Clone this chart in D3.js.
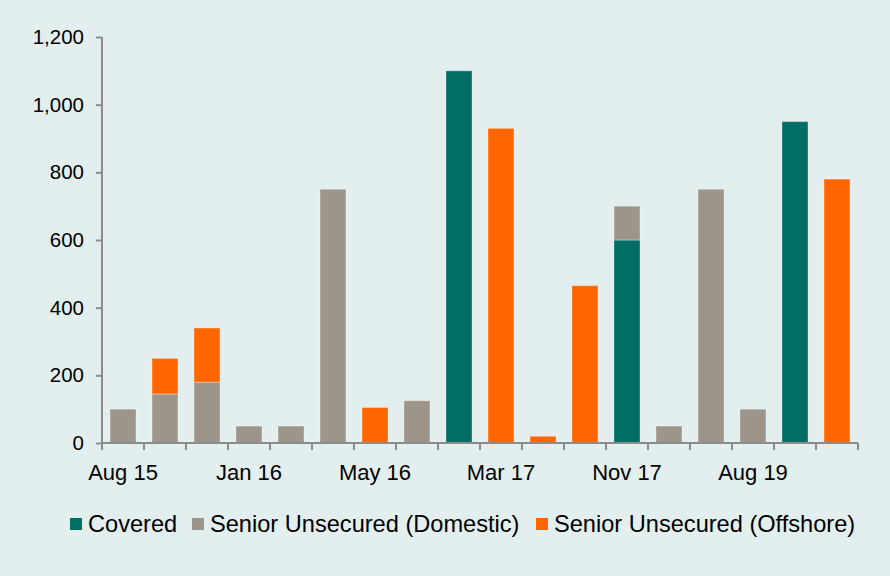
<!DOCTYPE html>
<html>
<head>
<meta charset="utf-8">
<script src="https://cdn.jsdelivr.net/npm/d3@7"></script>
<style>
  body { margin: 0; background: #e3efef; }
  svg { display: block; font-family: "Liberation Sans", Arial, sans-serif; }
</style>
</head>
<body>
<svg id="chart" width="890" height="576"></svg>
<script>
// issue dates (only every third one is labelled on the axis)
var dates = ["Aug 15", "Oct 15", "Nov 15", "Jan 16", "Feb 16", "Mar 16",
             "May 16", "Sep 16", "Nov 16", "Mar 17", "Jun 17", "Sep 17",
             "Nov 17", "Mar 18", "Oct 18", "Aug 19", "Sep 19", "Nov 19"];

var covered  = [0, 0, 0, 0, 0, 0, 0, 0, 1100, 0, 0, 0, 600, 0, 0, 0, 950, 0];
var domestic = [100, 145, 180, 50, 50, 750, 0, 125, 0, 0, 0, 0, 100, 50, 750, 100, 0, 0];
var offshore = [0, 105, 160, 0, 0, 0, 105, 0, 0, 930, 20, 465, 0, 0, 0, 0, 0, 780];

var seriesNames = ["Covered", "Senior Unsecured (Domestic)", "Senior Unsecured (Offshore)"];
var colors = ["#006e64", "#9c958a", "#ff6600"];
var yTicks = [0, 200, 400, 600, 800, 1000, 1200];

var svg = d3.select("#chart");

var margin = { top: 37, right: 32, bottom: 133, left: 102 },
    width = 890 - margin.left - margin.right,
    height = 576 - margin.top - margin.bottom;

var g = svg.append("g")
    .attr("transform", "translate(" + margin.left + "," + margin.top + ")");

var x = d3.scaleBand().domain(dates).range([0, width]).paddingInner(0.38).paddingOuter(0.19);
var y = d3.scaleLinear().domain([0, 1200]).range([height, 0]);

// build rows for the stack
var rows = dates.map(function(d, i) {
    return { date: d, s0: covered[i], s1: domestic[i], s2: offshore[i] };
});
var stack = d3.stack().keys(["s0", "s1", "s2"]);
var layers = stack(rows);

g.selectAll(".layer")
    .data(layers)
    .enter().append("g")
    .attr("class", "layer")
    .attr("fill", function(d, i) { return colors[i]; })
    .selectAll("rect")
    .data(function(d) { return d.filter(function(p) { return p[1] - p[0] > 0; }); })
    .enter().append("rect")
    .attr("x", function(d) { return x(d.data.date); })
    .attr("y", function(d) { return y(d[1]); })
    .attr("width", x.bandwidth())
    .attr("height", function(d) { return y(d[0]) - y(d[1]); })
    .attr("stroke", "rgba(255,255,255,0.35)")
    .attr("stroke-width", 1);

// Y axis
var yAxis = g.append("g")
    .call(d3.axisLeft(y).tickValues(yTicks).tickSize(6).tickPadding(12).tickFormat(d3.format(",")));
yAxis.selectAll("line, path").attr("stroke", "#8c8c8c").attr("stroke-width", 2);
yAxis.select(".domain").attr("d", "M0," + height + "V0");
yAxis.selectAll("text").attr("font-size", 20.5).attr("fill", "#000");

// X axis: tick marks at every category boundary, labels every third
var step = x.step();
var xAxis = g.append("g").attr("transform", "translate(0," + height + ")");
xAxis.append("path")
    .attr("d", "M0,0H" + width)
    .attr("stroke", "#8c8c8c").attr("stroke-width", 2);
xAxis.selectAll(".tick")
    .data(d3.range(dates.length + 1))
    .enter().append("line")
    .attr("x1", function(i) { return i * step; })
    .attr("x2", function(i) { return i * step; })
    .attr("y1", 0).attr("y2", 7)
    .attr("stroke", "#8c8c8c").attr("stroke-width", 2);
xAxis.selectAll(".lbl")
    .data(dates.filter(function(d, i) { return i % 3 === 0; }))
    .enter().append("text")
    .attr("x", function(d) { return x(d) + x.bandwidth() / 2; })
    .attr("y", 37)
    .attr("text-anchor", "middle")
    .attr("font-size", 22)
    .text(function(d) { return d; });

// legend
var legendX = [70, 192, 536];
var legend = svg.append("g");
seriesNames.forEach(function(name, i) {
    legend.append("rect")
        .attr("x", legendX[i]).attr("y", 518)
        .attr("width", 12).attr("height", 12)
        .attr("fill", colors[i]);
    legend.append("text")
        .attr("x", legendX[i] + 18).attr("y", 532)
        .attr("font-size", 23.6)
        .text(name);
});
</script>
</body>
</html>
